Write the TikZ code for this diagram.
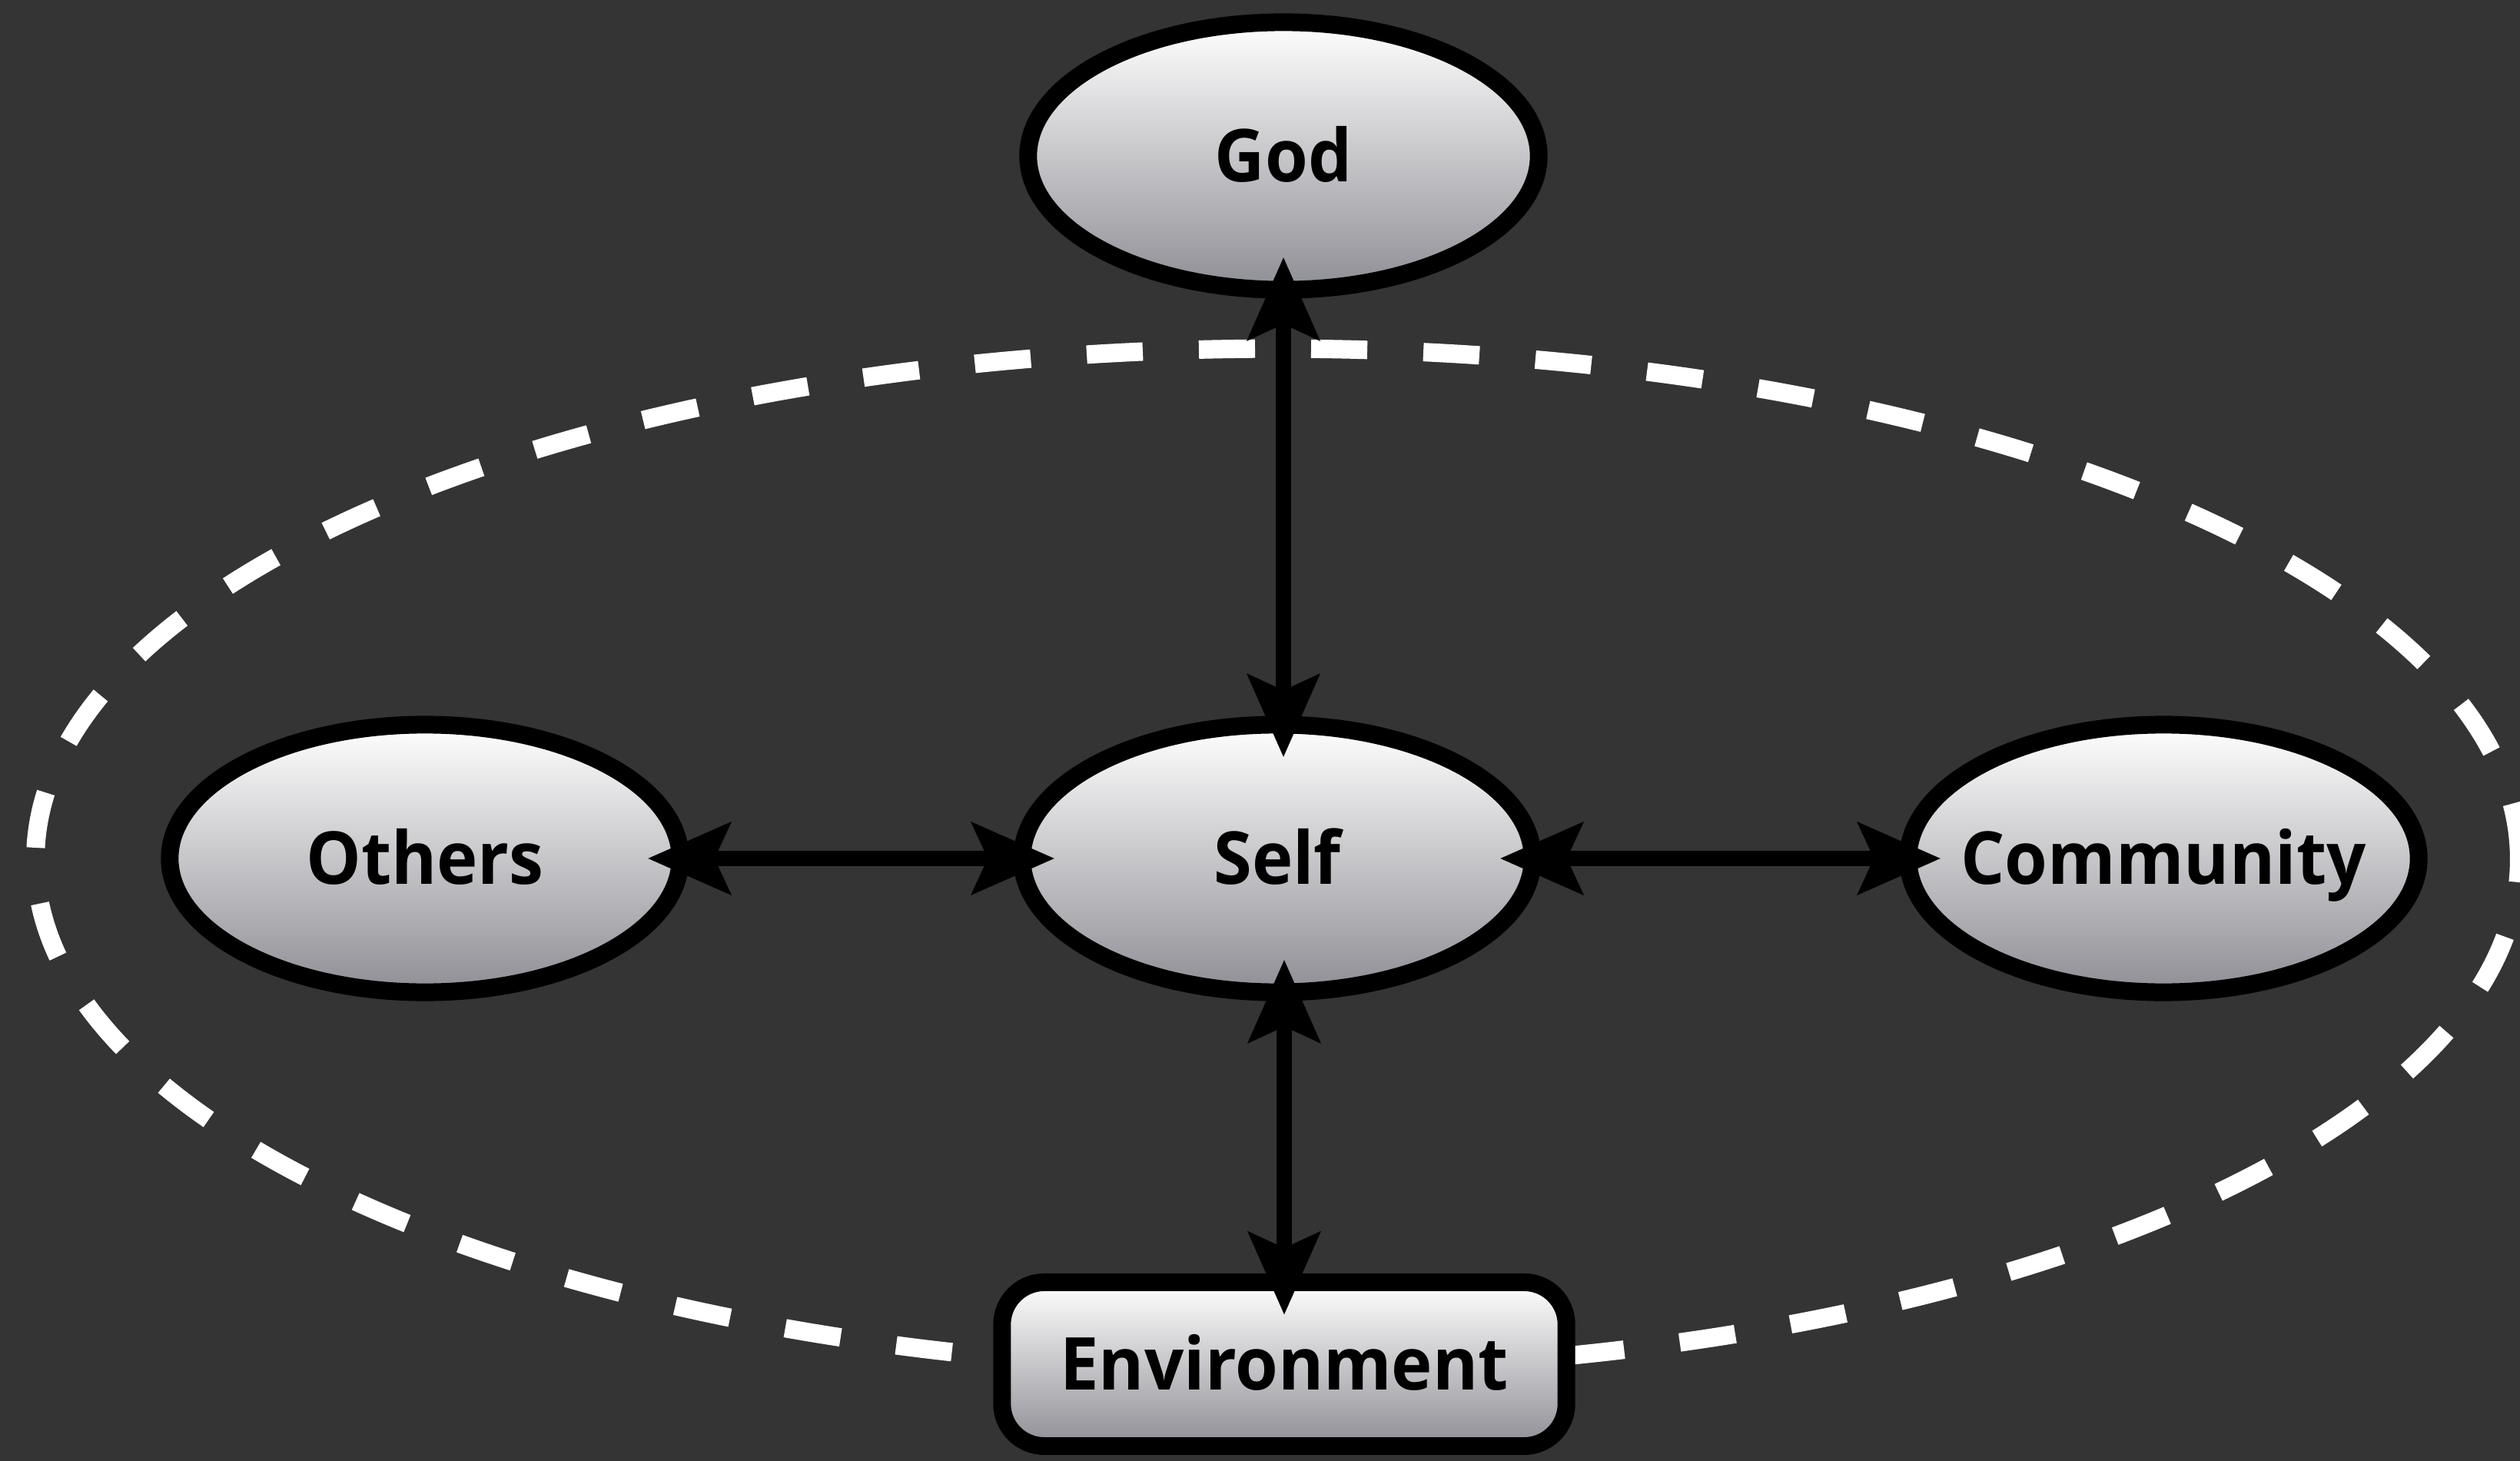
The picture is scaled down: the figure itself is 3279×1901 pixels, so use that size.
\documentclass[tikz,border=0pt]{standalone}
\usepackage{fontspec}
\usetikzlibrary{shapes.geometric,arrows.meta}
\newfontfamily\lblfont{Open Sans}[FakeStretch=0.95]
\definecolor{bgdark}{RGB}{52,52,52}
\definecolor{nodegray}{RGB}{142,142,149}
\tikzset{
  lbl/.style={draw=black, line width=0.23cm, top color=white, bottom color=nodegray,
    inner sep=0pt, font=\lblfont\bfseries\fontsize{27}{27}\selectfont,
    text height=19.3pt, text depth=0pt, text=black},
  ell/.style={lbl, ellipse, minimum width=6.64cm, minimum height=3.48cm},
  rbox/.style={lbl, rectangle, rounded corners=0.55cm, minimum width=7.34cm, minimum height=2.13cm},
  link/.style={line width=0.2cm, draw=black,
    {Stealth[length=1.07cm,width=0.92cm,inset=0.2cm]}-{Stealth[length=1.07cm,width=0.92cm,inset=0.2cm]},
    shorten >=-0.54cm, shorten <=-0.54cm},
  ring/.style={draw=white, line width=0.24cm, dash pattern=on 0.73cm off 0.73cm}
}
\begin{document}
\begin{tikzpicture}[x=0.01cm,y=-0.01cm]
  \fill[bgdark] (0,0) rectangle (3279,1901);
  \useasboundingbox (0,0) rectangle (3279,1901);
  \draw[ring] (1662,1118) ellipse [x radius=16.15cm, y radius=6.64cm];
  \node[ell] (god) at (1670,203) {God};
  \node[ell] (self) at (1662,1117) {Self};
  \node[ell] (others) at (553,1117) {Others};
  \node[ell] (comm) at (2815,1117) {\makebox[0pt]{Community}};
  \node[rbox] (env) at (1671,1775) {Environment};
  \draw[link] (god.south) -- (god.south |- self.north);
  \draw[link] (env.north) -- (env.north |- self.south);
  \draw[link] (others) -- (self);
  \draw[link] (self) -- (comm);
\end{tikzpicture}
\end{document}
